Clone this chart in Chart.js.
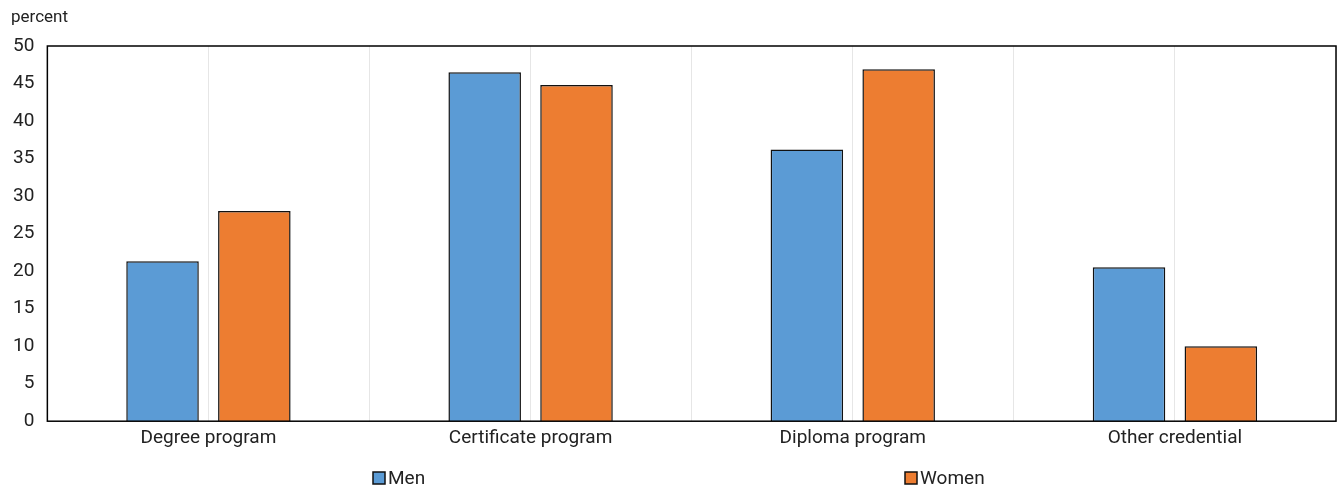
<!DOCTYPE html>
<html>
<head>
<meta charset="utf-8">
<script src="https://cdn.jsdelivr.net/npm/chart.js@4.4.0/dist/chart.umd.min.js"></script>
<style>
  html, body { margin: 0; padding: 0; background: #fff; }
  #chart { display: block; }
</style>
</head>
<body>
<canvas id="chart" width="1338" height="489"></canvas>
<script>
// chart data
const categories = ['Degree program', 'Certificate program', 'Diploma program', 'Other credential'];
const menValues = [21.3, 46.5, 36.2, 20.5];
const womenValues = [28.0, 44.8, 46.9, 10.0];
const yTicks = [0, 5, 10, 15, 20, 25, 30, 35, 40, 45, 50];

const FONT = 'Roboto, sans-serif';
const TEXT = '#222';

// frame around the plot area, "percent" label and the spread-out legend
const framePlugin = {
  id: 'frame',
  afterDatasetsDraw(chart) {
    const { ctx, chartArea: a } = chart;
    ctx.save();
    ctx.strokeStyle = '#000';
    ctx.lineWidth = 1.5;
    ctx.strokeRect(a.left, a.top, a.right - a.left, a.bottom - a.top);
    ctx.restore();
  },
  afterDraw(chart) {
    const { ctx } = chart;
    ctx.save();
    ctx.fillStyle = TEXT;
    ctx.font = '17px ' + FONT;
    ctx.textBaseline = 'middle';
    ctx.fillText('percent', 11, 18);

    // legend: one entry per dataset
    const legendX = [373, 905];
    const y = 478;
    ctx.font = '19px ' + FONT;
    chart.data.datasets.forEach((ds, i) => {
      const x = legendX[i];
      ctx.fillStyle = ds.backgroundColor;
      ctx.fillRect(x, y - 6, 12, 12);
      ctx.strokeStyle = '#111';
      ctx.lineWidth = 1.5;
      ctx.strokeRect(x, y - 6, 12, 12);
      ctx.fillStyle = TEXT;
      ctx.fillText(ds.label, x + 15, y + 1);
    });
    ctx.restore();
  }
};

new Chart(document.getElementById('chart'), {
  type: 'bar',
  data: {
    labels: categories,
    datasets: [
      {
        label: 'Men',
        data: menValues,
        backgroundColor: '#5B9BD5',
        borderColor: '#111',
        borderWidth: 1.5
      },
      {
        label: 'Women',
        data: womenValues,
        backgroundColor: '#ED7D31',
        borderColor: '#111',
        borderWidth: 1.5
      }
    ]
  },
  options: {
    responsive: false,
    animation: false,
    categoryPercentage: 0.57,
    barPercentage: 0.79,
    layout: { padding: { top: 46, right: 2, left: 0, bottom: 33 } },
    scales: {
      x: {
        offset: true,
        grid: { offset: true, color: '#e6e6e6', drawTicks: false },
        border: { display: false },
        ticks: { color: TEXT, font: { family: FONT, size: 19 }, padding: 6, maxRotation: 0 }
      },
      x2: {
        position: 'bottom',
        offset: true,
        grid: { offset: false, color: '#e6e6e6', drawTicks: false },
        border: { display: false },
        ticks: { display: false }
      },
      y: {
        min: 0,
        max: 50,
        afterBuildTicks(scale) {
          scale.ticks = yTicks.map(v => ({ value: v }));
        },
        grid: { display: false, drawTicks: false },
        border: { display: false },
        ticks: { color: TEXT, font: { family: FONT, size: 19 }, padding: 13, autoSkip: false }
      }
    },
    plugins: {
      legend: { display: false },
      tooltip: { enabled: false }
    }
  },
  plugins: [framePlugin]
});
</script>
</body>
</html>
